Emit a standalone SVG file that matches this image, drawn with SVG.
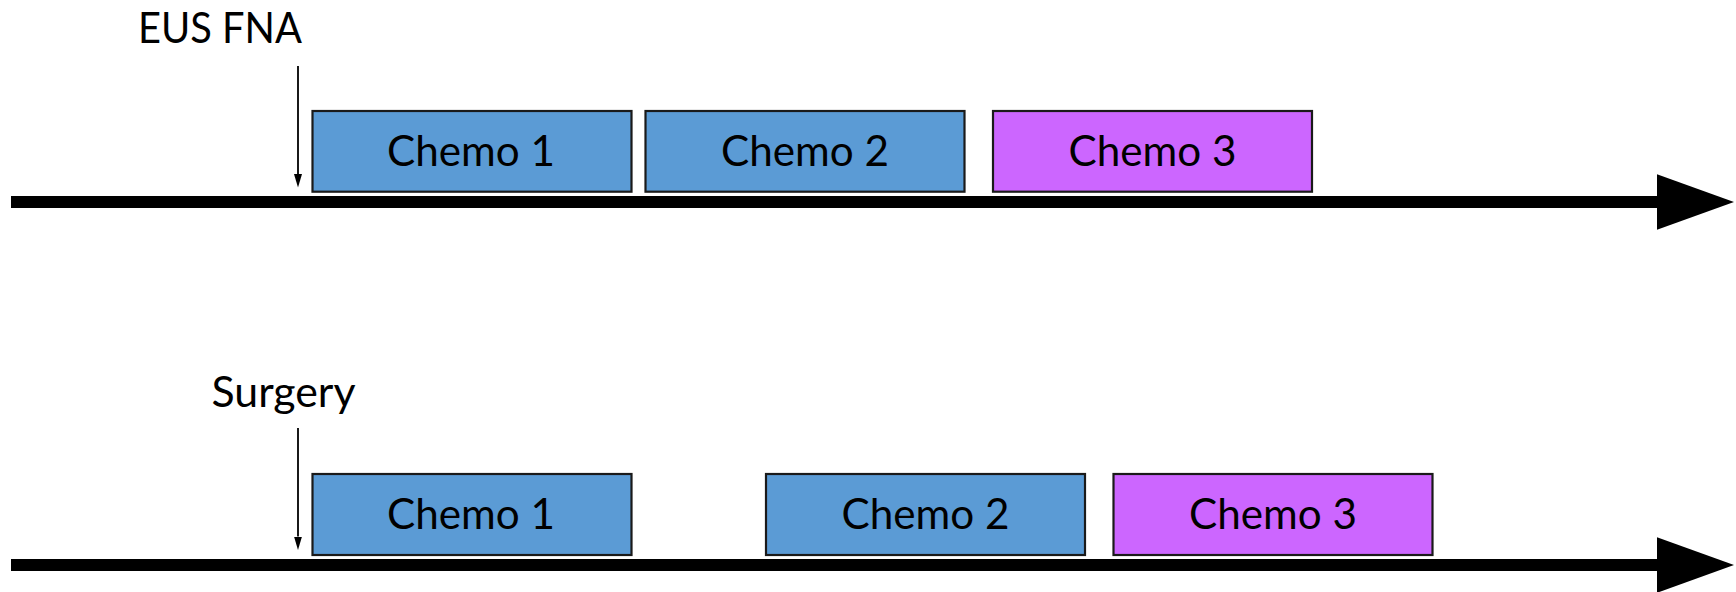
<svg xmlns="http://www.w3.org/2000/svg" width="1736" height="592" viewBox="0 0 1736 592">
<style>
.box{stroke:#1a1a1a;stroke-width:2.2}
.blue{fill:#5B9BD5}
.purple{fill:#CC66FF}
.lbl{font-family:Lato,"Open Sans","Liberation Sans",sans-serif;font-size:42px;fill:#000}
.axis{stroke:#000;stroke-width:12;marker-end:url(#big)}
.tick{stroke:#000;stroke-width:1.8;fill:none;marker-end:url(#sm)}
</style>
<defs>
<marker id="sm" markerUnits="userSpaceOnUse" markerWidth="14" markerHeight="8" viewBox="0 0 14 8" refX="0" refY="4" orient="auto">
<path d="M0,0 L13.5,4 L0,8 Z" fill="#000"/>
</marker>
<marker id="big" markerUnits="userSpaceOnUse" markerWidth="78" markerHeight="56" viewBox="0 0 78 56" refX="0.5" refY="28" orient="auto">
<path d="M0,0 L77.5,28 L0,56 Z" fill="#000"/>
</marker>
</defs>
<g id="connectors">
<line class="axis" x1="11" y1="202" x2="1657" y2="202"/>
<line class="axis" x1="11" y1="565" x2="1657" y2="565"/>
<line class="tick" x1="298" y1="66" x2="298" y2="174"/>
<line class="tick" x1="298" y1="428" x2="298" y2="536.5"/>
</g>
<g id="eus-fna"><text class="lbl" x="138" y="43" textLength="164" lengthAdjust="spacingAndGlyphs">EUS FNA</text></g>
<g id="surgery"><text class="lbl" x="211.5" y="407.3" textLength="144" lengthAdjust="spacingAndGlyphs">Surgery</text></g>
<g id="top-chemo1"><rect class="box blue" x="312.5" y="111" width="319" height="80.7"/><text class="lbl" x="387" y="165.7" textLength="168" lengthAdjust="spacingAndGlyphs">Chemo 1</text></g>
<g id="top-chemo2"><rect class="box blue" x="645.5" y="111" width="319" height="80.7"/><text class="lbl" x="721" y="165.7" textLength="168" lengthAdjust="spacingAndGlyphs">Chemo 2</text></g>
<g id="top-chemo3"><rect class="box purple" x="993" y="111" width="319" height="80.7"/><text class="lbl" x="1068.5" y="165.7" textLength="168" lengthAdjust="spacingAndGlyphs">Chemo 3</text></g>
<g id="bot-chemo1"><rect class="box blue" x="312.5" y="474" width="319" height="81"/><text class="lbl" x="387" y="529" textLength="168" lengthAdjust="spacingAndGlyphs">Chemo 1</text></g>
<g id="bot-chemo2"><rect class="box blue" x="766" y="474" width="319" height="81"/><text class="lbl" x="841.5" y="529" textLength="168" lengthAdjust="spacingAndGlyphs">Chemo 2</text></g>
<g id="bot-chemo3"><rect class="box purple" x="1113.5" y="474" width="319" height="81"/><text class="lbl" x="1189" y="529" textLength="168" lengthAdjust="spacingAndGlyphs">Chemo 3</text></g>
</svg>
